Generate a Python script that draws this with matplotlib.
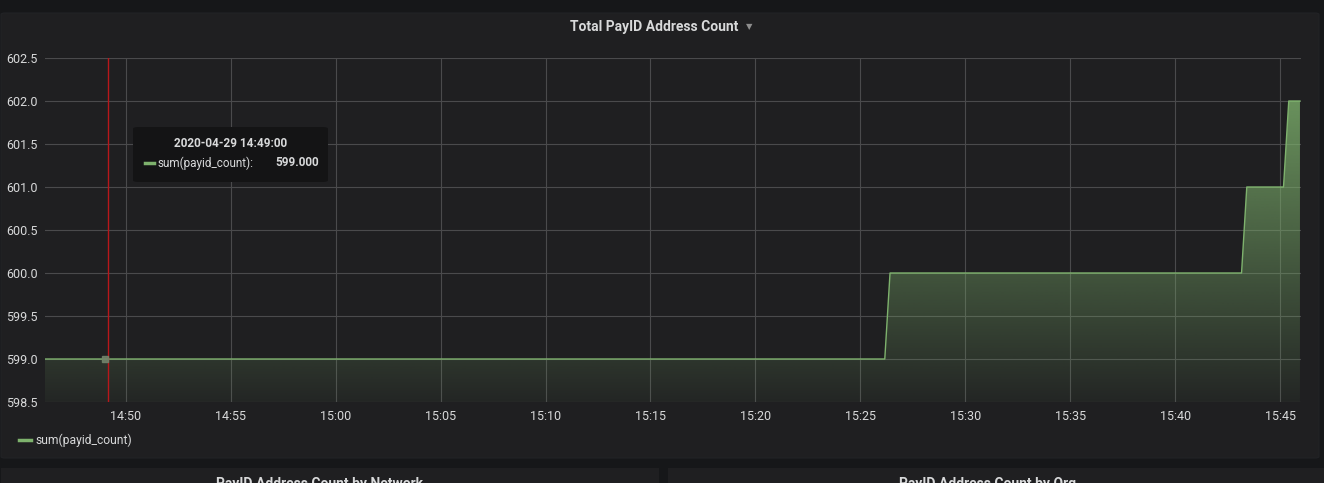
import matplotlib
matplotlib.use("Agg")
import matplotlib.pyplot as plt
import matplotlib.dates as mdates
from matplotlib.patches import FancyBboxPatch, Rectangle
import numpy as np
from datetime import datetime

# ---- data ----
title = "Total PayID Address Count"
series_name = "sum(payid_count)"
day = "2020-04-29"
times = ["14:46:09", "15:26:10", "15:26:25", "15:43:10", "15:43:25",
         "15:45:10", "15:45:25", "15:45:57"]
values = [599, 599, 600, 600, 601, 601, 602, 602]
y_ticks = [598.5, 599.0, 599.5, 600.0, 600.5, 601.0, 601.5, 602.0, 602.5]
x_start, x_end = "14:46:09", "15:46:00"
hover_time = "14:49:00"
hover_value = 599.0
crosshair_time = "14:49:09"
tooltip_title = "2020-04-29 14:49:00"
tooltip_value = "599.000"
lower_titles = ["PayID Address Count by Network", "PayID Address Count by Org"]

def t(s):
    return datetime.strptime(f"{day} {s}", "%Y-%m-%d %H:%M:%S")

xs = mdates.date2num([t(s) for s in times])
ys = np.array(values, dtype=float)

W, H = 1324, 483
plt.rcParams['font.family'] = ['Roboto', 'DejaVu Sans']
fig = plt.figure(figsize=(W / 100, H / 100), dpi=100)
fig.patch.set_facecolor('#161719')

def fx(px):
    return px / W

def fy(py):
    return 1 - py / H

PANEL = '#1f1f21'
# panels
fig.patches.append(FancyBboxPatch((fx(1), fy(458)), fx(1319) - fx(1), fy(13) - fy(458),
                                  boxstyle="round,pad=0,rounding_size=0.003",
                                  transform=fig.transFigure, facecolor=PANEL,
                                  edgecolor='#222326', lw=0.8, zorder=-2))
fig.patches.append(Rectangle((fx(1), 0), fx(659) - fx(1), fy(468),
                             transform=fig.transFigure, facecolor=PANEL,
                             edgecolor='none', zorder=-2))
fig.patches.append(Rectangle((fx(668), 0), fx(1324) - fx(668), fy(468),
                             transform=fig.transFigure, facecolor=PANEL,
                             edgecolor='none', zorder=-2))

ax = fig.add_axes([fx(45), fy(402), fx(1301) - fx(45), fy(58) - fy(402)])
ax.set_zorder(1)
ax.patch.set_alpha(0)

ymin, ymax = y_ticks[0], y_ticks[-1]
xl0, xl1 = mdates.date2num(t(x_start)), mdates.date2num(t(x_end))

# gradient fill
green = np.array([126, 178, 109]) / 255.0
n = 256
yy = np.linspace(ymin, ymax, n)
alpha = 0.05 + (yy - ymin) * 0.21
img = np.zeros((n, 2, 4))
img[:, :, :3] = green
img[:, :, 3] = alpha[:, None]
poly = ax.fill_between(xs, ys, ymin, facecolor='none', edgecolor='none')
im = ax.imshow(img, extent=[xl0, xl1, ymin, ymax], origin='lower',
               aspect='auto', zorder=2, interpolation='bilinear')
im.set_clip_path(poly.get_paths()[0], transform=ax.transData)
ax.plot(xs, ys, color='#7eb26d', lw=1.0, zorder=3)
ax.set_xlim(xl0, xl1)
ax.set_ylim(ymin, ymax)

# grid
ax.set_yticks(y_ticks)
ax.yaxis.set_major_formatter(matplotlib.ticker.FormatStrFormatter('%.1f'))
ax.xaxis.set_major_locator(mdates.MinuteLocator(byminute=range(0, 60, 5)))
ax.xaxis.set_major_formatter(mdates.DateFormatter('%H:%M'))
ax.grid(True, color='#4a4a4c', lw=0.8, zorder=1)
ax.set_axisbelow(True)
for sp in ax.spines.values():
    sp.set_visible(False)
ax.tick_params(length=0, colors='#d8d9da', labelsize=9)
ax.tick_params(axis='x', pad=6)
ax.tick_params(axis='y', pad=5)

# crosshair and hover point
ax.axvline(mdates.date2num(t(crosshair_time)), color='#b8171b', lw=1.0, zorder=4)
ax.plot([mdates.date2num(t(hover_time))], [hover_value], 's', ms=4,
        color='#71836b', zorder=5, alpha=0.9)

# title
fig.text(fx(654), fy(27), title, ha='center', va='center', color='#d8d9da',
         fontsize=10, fontweight='bold')
fig.text(fx(749), fy(27), "\u25BC", ha='center', va='center', color='#8e8e8e',
         fontsize=6, family=['DejaVu Sans'])

# tooltip
fig.patches.append(FancyBboxPatch((fx(133), fy(182)), fx(328) - fx(133), fy(127) - fy(182),
                                  boxstyle="round,pad=0,rounding_size=0.004",
                                  transform=fig.transFigure, facecolor='#141415',
                                  edgecolor='none', zorder=10))
fig.text(fx(231), fy(143), tooltip_title, ha='center', va='center',
         color='#d8d9da', fontsize=8.5, fontweight='bold', zorder=11)
fig.lines.append(plt.Line2D([fx(145), fx(154)], [fy(163), fy(163)],
                            transform=fig.transFigure, color='#7eb26d', lw=2.5, zorder=11))
fig.text(fx(157), fy(163), series_name + ":", ha='left', va='center',
         color='#d8d9da', fontsize=8.5, zorder=11)
fig.text(fx(319), fy(163), tooltip_value, ha='right', va='center',
         color='#d8d9da', fontsize=8.5, fontweight='bold', zorder=11)

# legend
fig.lines.append(plt.Line2D([fx(19), fx(31)], [fy(440), fy(440)],
                            transform=fig.transFigure, color='#7eb26d', lw=2.5))
fig.text(fx(36), fy(440), series_name, ha='left', va='center',
         color='#d8d9da', fontsize=8.7)

# lower panel titles (cut off at the bottom edge, as in the reference)
fig.text(fx(320), fy(484), lower_titles[0], ha='center', va='center',
         color='#d8d9da', fontsize=10, fontweight='bold')
fig.text(fx(988), fy(484), lower_titles[1], ha='center', va='center',
         color='#d8d9da', fontsize=10, fontweight='bold')

fig.savefig("out.png", dpi=100, facecolor=fig.get_facecolor())
